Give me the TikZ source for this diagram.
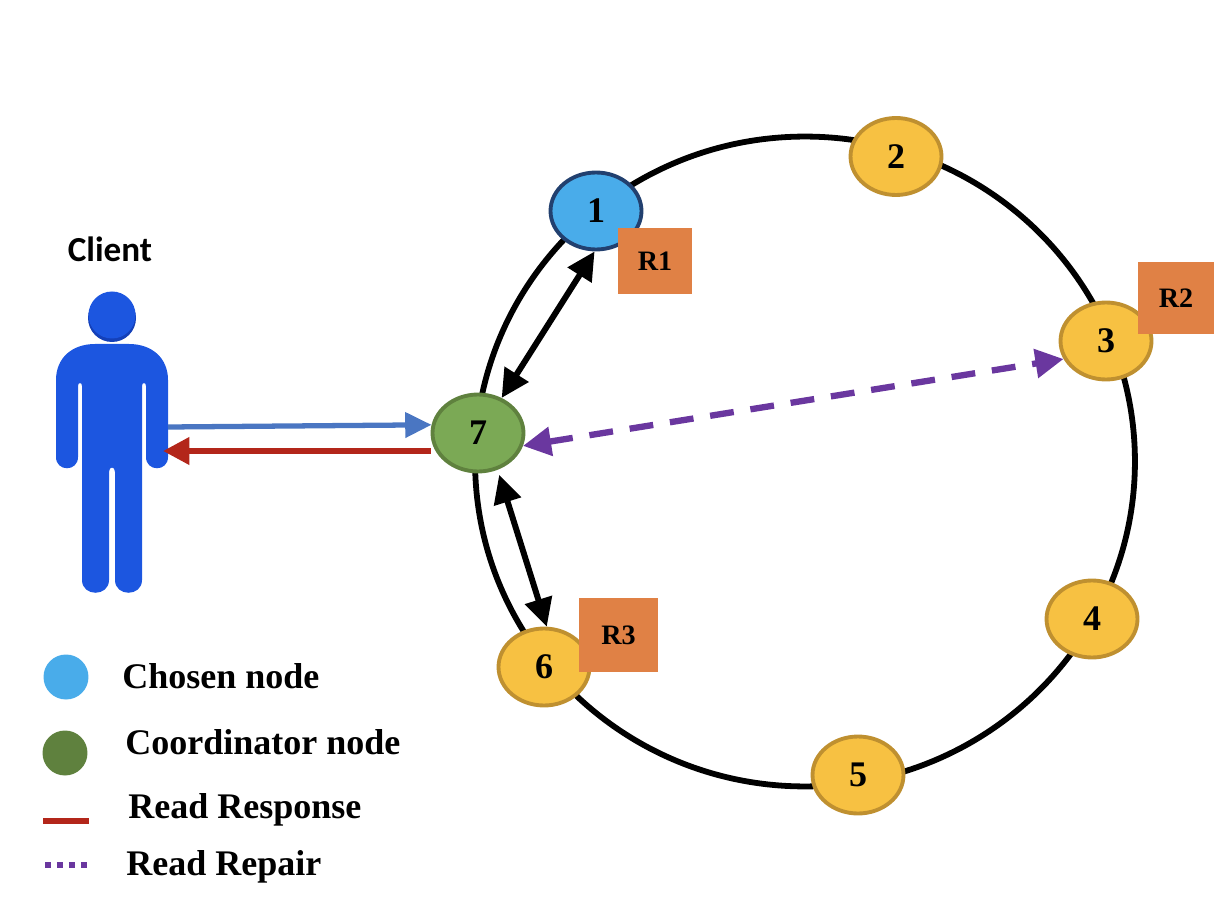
\documentclass[tikz,border=0pt]{standalone}
\usepackage{fontspec}
\setmainfont{Liberation Serif}
\newfontfamily\clientfont{Carlito}
\usetikzlibrary{arrows.meta,shapes.geometric}

\definecolor{nodeyellow}{HTML}{F7C142}
\definecolor{yellowline}{HTML}{BF9030}
\definecolor{chosenblue}{HTML}{49ACEA}
\definecolor{chosenline}{HTML}{22406F}
\definecolor{coordgreen}{HTML}{7BA955}
\definecolor{coordline}{HTML}{5F813E}
\definecolor{replicaorange}{HTML}{E08145}
\definecolor{personblue}{HTML}{1C56E0}
\definecolor{persondark}{HTML}{1440B8}
\definecolor{requestblue}{HTML}{4A76C2}
\definecolor{responsered}{HTML}{B3261A}
\definecolor{repairpurple}{HTML}{6A379F}

\begin{document}
\begin{tikzpicture}[x=0.02cm,y=-0.02cm]
\tikzstyle{member}=[ellipse,draw=yellowline,fill=nodeyellow,line width=2.2pt,minimum width=1.82cm,minimum height=1.54cm,inner sep=0,font=\fontsize{20.5}{24}\selectfont\bfseries]
\tikzstyle{replica}=[rectangle,fill=replicaorange,inner sep=0,font=\fontsize{16}{19}\selectfont\bfseries]
\tikzstyle{legend}=[anchor=base west,inner sep=0,font=\fontsize{20.5}{24}\selectfont\bfseries]
\tikzstyle{swatch}=[circle,inner sep=0,minimum size=.9cm]
\tikzstyle{readlink}=[line width=3.4pt,<->,>={Triangle[length=16pt,width=15.5pt]}]
\tikzstyle{repair}=[line width=3.6pt,dash pattern=on 13.6pt off 9.6pt,color=repairpurple,<->,>={Triangle[length=16pt,width=16pt]}]
\useasboundingbox (0,0) rectangle (1226,908);
% ========= ring
\node (ring) at (805,461.5) [ellipse,draw=black,line width=3.3pt,minimum width=13.2cm,minimum height=13cm,inner sep=0] {};
% ========= client
\node (client) at (110,262) [anchor=base,inner sep=0,font=\fontsize{20}{24}\selectfont\clientfont\bfseries] {Client};
\fill [persondark] (112,318) circle (24);
\fill [personblue] (112,315) circle (23.5);
\fill [personblue] (56,380) .. controls (56,358) and (72,344) .. (95,344) -- (129,344)
  .. controls (152,344) and (168,358) .. (168,380) -- (168,457)
  .. controls (168,472) and (146,472) .. (146,457) -- (146,386)
  .. controls (146,382) and (142,382) .. (142,386) -- (142,580)
  .. controls (142,597) and (115,597) .. (115,580) -- (115,472)
  .. controls (115,466) and (109,466) .. (109,472) -- (109,580)
  .. controls (109,597) and (82,597) .. (82,580) -- (82,386)
  .. controls (82,382) and (78,382) .. (78,386) -- (78,457)
  .. controls (78,472) and (56,472) .. (56,457) -- cycle;
\coordinate (armout) at (168,427);
\coordinate (armin) at (163,451);
% ========= bucks
\node (n1) at (596,211) [member,draw=chosenline,fill=chosenblue] {1};
\node (n2) at (896,156.5) [member] {2};
\node (n3) at (1106,341) [member] {3};
\node (n4) at (1092,619) [member] {4};
\node (n5) at (858,775) [member] {5};
\node (n6) at (544,667) [member] {6};
\node (n7) at (478,433) [member,draw=coordline,fill=coordgreen] {7};
% ====== connections
\draw [line width=3pt,color=requestblue,-{Triangle[length=15pt,width=14pt]}] (armout) -- (n7.170);
\draw [line width=3.4pt,color=responsered,-{Triangle[length=15pt,width=15pt]}] (n7.west |- armin) -- (armin);
\draw [readlink] (n7.56) -- (n1.-92);
\draw [readlink,shorten <=3pt] (n7.-62) -- (n6.86);
\draw [repair] (n7.-16) -- (n3.203);
% ====== replicas
\node (r1) at (655,261) [replica,minimum width=1.48cm,minimum height=1.32cm] {R1};
\node (r2) at (1176,298) [replica,minimum width=1.52cm,minimum height=1.44cm] {R2};
\node (r3) at (618.5,635) [replica,minimum width=1.58cm,minimum height=1.48cm] {R3};
%% ===== legend
\node (keychosen) at (66,677) [swatch,fill=chosenblue] {};
\node (keycoord) at (65,753) [swatch,fill=coordline] {};
\coordinate (resp1) at (43,821);
\coordinate (resp2) at (89,821);
\coordinate (rep1) at (45,865);
\coordinate (rep2) at (88,865);
\draw [line width=3.4pt,color=responsered] (resp1) -- (resp2);
\draw [line width=3.4pt,color=repairpurple,dash pattern=on 3.4pt off 3.4pt] (rep1) -- (rep2);
\node (txtchosen) at (122,688) [legend] {Chosen node};
\node (txtcoord) at (125,754) [legend] {Coordinator node};
\node (txtresp) at (128,818) [legend] {Read Response};
\node (txtrep) at (126,875) [legend] {Read Repair};
\end{tikzpicture}
\end{document}
